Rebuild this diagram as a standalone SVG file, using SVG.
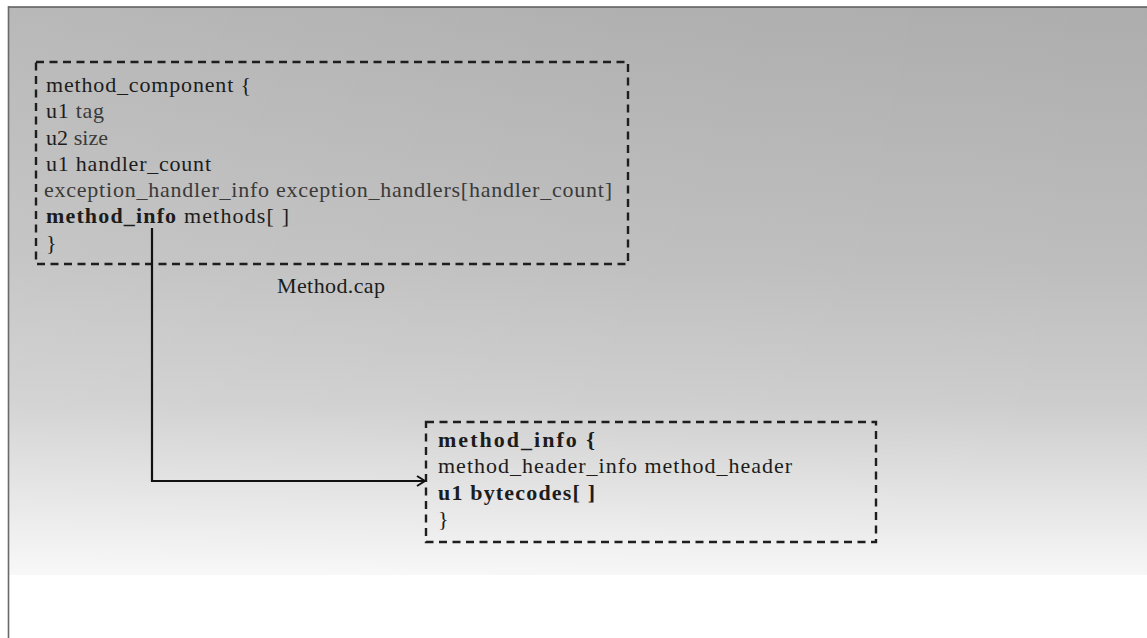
<svg xmlns="http://www.w3.org/2000/svg" width="1147" height="638" viewBox="0 0 1147 638">
  <defs>
    <linearGradient id="bgV" x1="0" y1="0" x2="0" y2="1">
      <stop offset="0" stop-color="#adadad"/>
      <stop offset="0.45" stop-color="#bdbdbd"/>
      <stop offset="0.7" stop-color="#cdcdcd"/>
      <stop offset="0.85" stop-color="#e2e2e2"/>
      <stop offset="0.95" stop-color="#f0f0f0"/>
      <stop offset="1" stop-color="#f7f7f7"/>
    </linearGradient>
    <linearGradient id="bgH" x1="0" y1="0" x2="1" y2="0">
      <stop offset="0" stop-color="#ffffff" stop-opacity="0.14"/>
      <stop offset="0.55" stop-color="#ffffff" stop-opacity="0.04"/>
      <stop offset="1" stop-color="#ffffff" stop-opacity="0"/>
    </linearGradient>
    <marker id="arrow" viewBox="0 0 12 12" refX="11" refY="6" markerWidth="12" markerHeight="12" markerUnits="userSpaceOnUse" orient="auto">
      <path d="M3,1 L11,6 L3,11" fill="none" stroke="#111" stroke-width="2"/>
    </marker>
  </defs>
  <style>
    .box { fill: none; stroke: #1e1e1e; stroke-width: 2.4; stroke-dasharray: 8 5.5; }
    .t { font-family: "Liberation Serif", "Times New Roman", serif; font-size: 22px; fill: #1c1c1c; }
    .b { font-weight: bold; }
    .g { fill: #3a3a3a; }
    .conn { fill: none; stroke: #111; stroke-width: 2.2; }
  </style>
  <rect x="0" y="0" width="1147" height="638" fill="#ffffff"/>
  <rect x="9" y="7" width="1138" height="568" fill="url(#bgV)"/>
  <rect x="9" y="7" width="1138" height="568" fill="url(#bgH)"/>
  <line x1="8" y1="7" x2="1147" y2="7" stroke="#5a5a5a" stroke-width="1.6"/>
  <line x1="8.5" y1="6" x2="8.5" y2="638" stroke="#6a6a6a" stroke-width="1.6"/>

  <g id="method_component">
    <rect class="box" x="36" y="62" width="592" height="202"/>
    <text class="t" x="46" y="92" textLength="205" lengthAdjust="spacing">method_component {</text>
    <text class="t" x="46" y="118" textLength="58" lengthAdjust="spacing">u1 <tspan class="g">tag</tspan></text>
    <text class="t" x="46" y="145" textLength="62" lengthAdjust="spacing">u2 <tspan class="g">size</tspan></text>
    <text class="t" x="46" y="171" textLength="165" lengthAdjust="spacing">u1 handler_count</text>
    <text class="t g" x="44" y="197" textLength="568" lengthAdjust="spacing">exception_handler_info exception_handlers[handler_count]</text>
    <text class="t" x="46" y="223" textLength="243" lengthAdjust="spacing"><tspan class="b">method_info</tspan> methods[ ]</text>
    <text class="t" x="46" y="250">}</text>
  </g>

  <g id="label_method_cap">
    <text class="t" x="277" y="293" textLength="108" lengthAdjust="spacing">Method.cap</text>
  </g>

  <g id="method_info">
    <rect class="box" x="426" y="422" width="450" height="120"/>
    <text class="t b" x="438" y="447" textLength="157" lengthAdjust="spacing">method_info {</text>
    <text class="t" x="438" y="473" textLength="354" lengthAdjust="spacing">method_header_info method_header</text>
    <text class="t b" x="438" y="500" textLength="157" lengthAdjust="spacing">u1 bytecodes[ ]</text>
    <text class="t" x="438" y="526">}</text>
  </g>

  <g id="connectors">
    <path class="conn" d="M152,228 V481 H425" marker-end="url(#arrow)"/>
  </g>
</svg>
